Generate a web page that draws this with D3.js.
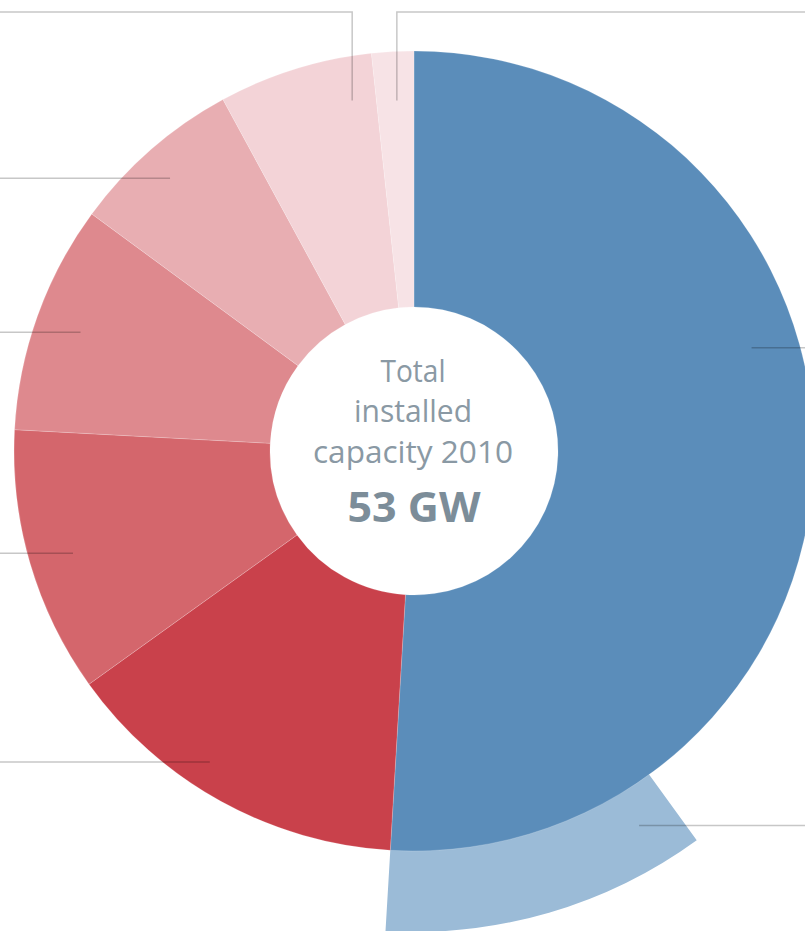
<!DOCTYPE html>
<html>
<head>
<meta charset="utf-8">
<script src="https://cdn.jsdelivr.net/npm/d3@7/dist/d3.min.js"></script>
<style>
  html, body { margin: 0; padding: 0; background: #ffffff; }
  svg { display: block; }
</style>
</head>
<body>
<svg id="chart" width="805" height="931"></svg>
<script>
// ---------------- DATA ----------------
// Installed capacity 2010 by source (GW), clockwise from 12 o'clock
const categories = ["Source A", "Source B", "Source C", "Source D", "Source E", "Source F", "Source G"];
const values = [27.0, 7.5, 5.7, 4.9, 3.7, 3.3, 0.9];
// Part of the first category shown as an outer band at the end of its slice (GW)
const subCategory = "Source A (part)";
const subValue = 5.8;
// Centre text
const centerLines = ["Total", "installed", "capacity 2010"];
const totalLabel = "53 GW";

// ---------------- STYLE / LAYOUT ----------------
const colors = ["#5b8dba", "#c9414b", "#d4666c", "#de898e", "#e8aeb2", "#f3d3d7", "#f7e3e6"];
const subColor = "#9bbbd7";
const W = 805, H = 931;
const cx = 414, cy = 451;
const innerR = 144, outerR = 400, subOuterR = 481;
// leader line anchors (angle in degrees clockwise from north, radius from centre)
const leaders = [
  { angle: 73,    r: 353, side: "right" },
  { angle: 213.3, r: 372, side: "left" },
  { angle: 253.3, r: 356, side: "left" },
  { angle: 289.6, r: 354, side: "left" },
  { angle: 318.2, r: 366, side: "left" },
  { angle: 350,   r: 356, side: "left", up: 12 },
  { angle: 357.2, r: 351, side: "right", up: 12 },
  { angle: 149,   r: 437, side: "right" }
];

// ---------------- DRAW ----------------
const svg = d3.select("#chart");
svg.append("rect").attr("width", W).attr("height", H).attr("fill", "#ffffff");
const g = svg.append("g").attr("transform", `translate(${cx},${cy})`);

const total = d3.sum(values);
const angle = d3.scaleLinear().domain([0, total]).range([0, 2 * Math.PI]);

const pie = d3.pie().sort(null).value(d => d).startAngle(0).endAngle(2 * Math.PI);
const arcs = pie(values);

// outer band (sub part of the first slice)
const subArc = d3.arc().innerRadius(outerR - 1).outerRadius(subOuterR);
g.append("path")
  .attr("d", subArc({ startAngle: angle(values[0] - subValue), endAngle: angle(values[0]) }))
  .attr("fill", subColor);

const arc = d3.arc().innerRadius(innerR).outerRadius(outerR);
g.selectAll("path.slice")
  .data(arcs)
  .join("path")
  .attr("class", "slice")
  .attr("d", arc)
  .attr("fill", (d, i) => colors[i])
  .attr("stroke", "rgba(255,255,255,0.3)")
  .attr("stroke-width", 0.6);

// leader lines
const lineG = svg.append("g")
  .attr("fill", "none")
  .attr("stroke", "#000")
  .attr("stroke-opacity", 0.22)
  .attr("stroke-width", 1.5);
leaders.forEach(l => {
  const a = l.angle * Math.PI / 180;
  const x = cx + l.r * Math.sin(a);
  const y = cy - l.r * Math.cos(a);
  const edge = l.side === "left" ? 0 : W;
  let pts;
  if (l.up !== undefined) {
    pts = [[x, y], [x, l.up], [edge, l.up]];
  } else {
    pts = [[x, y], [edge, y]];
  }
  lineG.append("path").attr("d", d3.line()(pts));
});

// centre text
const tg = svg.append("g").attr("text-anchor", "middle")
  .attr("font-family", "'Open Sans', 'Noto Sans', sans-serif");
const lineY = [382, 422, 463];
const lineW = [65, 118, 200];
centerLines.forEach((t, i) => {
  tg.append("text")
    .attr("x", cx - 1).attr("y", lineY[i])
    .attr("font-size", 31)
    .attr("fill", "#8a99a4")
    .attr("textLength", lineW[i])
    .attr("lengthAdjust", "spacingAndGlyphs")
    .text(t);
});
tg.append("text")
  .attr("x", cx).attr("y", 522)
  .attr("font-size", 42)
  .attr("font-weight", "bold")
  .attr("fill", "#7c8d99")
  .attr("textLength", 133)
  .attr("lengthAdjust", "spacingAndGlyphs")
  .text(totalLabel);
</script>
</body>
</html>
